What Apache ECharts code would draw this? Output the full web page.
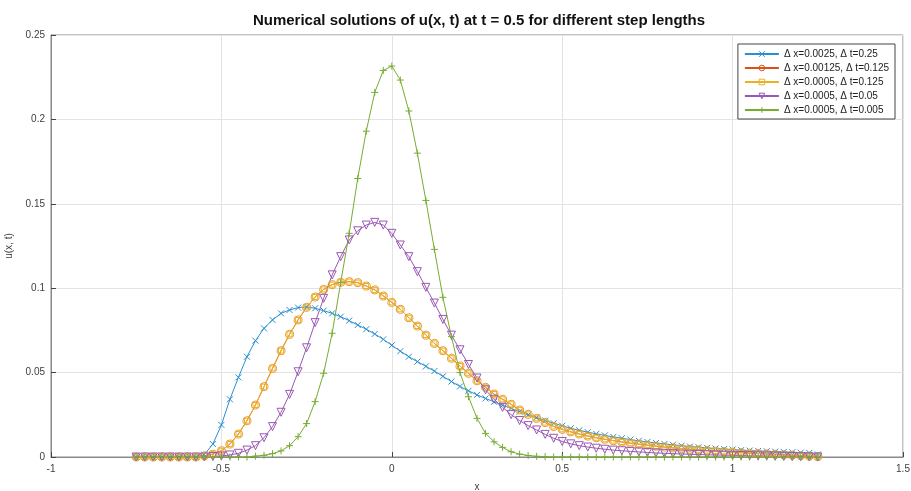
<!DOCTYPE html>
<html>
<head>
<meta charset="utf-8">
<script src="https://cdn.jsdelivr.net/npm/echarts@6/dist/echarts.min.js"></script>
<style>
  html, body { margin: 0; padding: 0; background: #fff; }
  #main { width: 911px; height: 491px; }
</style>
</head>
<body>
<div id="main"></div>
<script>
// sample positions of the plotted markers
var xs = [
  -0.75, -0.725, -0.7, -0.675, -0.65, -0.625, -0.6, -0.575, -0.55, -0.525,
  -0.5, -0.475, -0.45, -0.425, -0.4, -0.375, -0.35, -0.325, -0.3, -0.275,
  -0.25, -0.225, -0.2, -0.175, -0.15, -0.125, -0.1, -0.075, -0.05, -0.025,
  0, 0.025, 0.05, 0.075, 0.1, 0.125, 0.15, 0.175, 0.2, 0.225,
  0.25, 0.275, 0.3, 0.325, 0.35, 0.375, 0.4, 0.425, 0.45, 0.475,
  0.5, 0.525, 0.55, 0.575, 0.6, 0.625, 0.65, 0.675, 0.7, 0.725,
  0.75, 0.775, 0.8, 0.825, 0.85, 0.875, 0.9, 0.925, 0.95, 0.975,
  1, 1.025, 1.05, 1.075, 1.1, 1.125, 1.15, 1.175, 1.2, 1.225, 1.25
];

// dx=0.0025, dt=0.25
var uA = [
  0, 0, 0, 0, 0, 0, 0, 0, 0.0014, 0.0077,
  0.019, 0.0342, 0.0472, 0.0594, 0.0689, 0.0762, 0.0812, 0.0851, 0.0871, 0.0885,
  0.0889, 0.0881, 0.0867, 0.0851, 0.0831, 0.0808, 0.0782, 0.0757, 0.0729, 0.0697,
  0.0662, 0.0627, 0.0594, 0.0565, 0.0537, 0.0509, 0.0478, 0.0447, 0.0418, 0.0392,
  0.0368, 0.0347, 0.0327, 0.0307, 0.0288, 0.0268, 0.025, 0.0234, 0.0216, 0.02,
  0.0185, 0.017, 0.0158, 0.0147, 0.0137, 0.0128, 0.0119, 0.0111, 0.0103, 0.0096,
  0.0089, 0.0083, 0.0077, 0.0072, 0.0067, 0.0062, 0.0058, 0.0054, 0.005, 0.0047,
  0.0044, 0.0041, 0.0038, 0.0036, 0.0034, 0.0032, 0.003, 0.0028, 0.0026, 0.0024, 0.0015
];

// dx=0.00125, dt=0.125 and dx=0.0005, dt=0.125 (on top of each other)
var uB = [
  0, 0, 0, 0, 0, 0, 0, 0, 0.0007, 0.0017,
  0.0037, 0.0077, 0.0136, 0.0215, 0.0308, 0.0417, 0.0525, 0.063, 0.0727, 0.0812,
  0.0887, 0.0948, 0.0993, 0.1021, 0.1035, 0.1039, 0.1033, 0.1013, 0.099, 0.0954,
  0.0916, 0.0875, 0.0825, 0.0776, 0.0722, 0.0673, 0.063, 0.0585, 0.0539, 0.0496,
  0.0452, 0.0413, 0.0373, 0.0342, 0.0312, 0.0279, 0.0253, 0.0229, 0.0204, 0.0181,
  0.0164, 0.0149, 0.0136, 0.0124, 0.0114, 0.0105, 0.0097, 0.0089, 0.0082, 0.0076,
  0.007, 0.0064, 0.0059, 0.0054, 0.005, 0.0046, 0.0042, 0.0038, 0.0035, 0.0032,
  0.0029, 0.0026, 0.0023, 0.0021, 0.0018, 0.0016, 0.0013, 0.0011, 0.0008, 0.0005, 0.0002
];
var uC = uB.slice();

// dx=0.0005, dt=0.05
var uD = [
  0, 0, 0, 0, 0, 0, 0, 0, 0, 0.0003,
  0.0006, 0.0012, 0.0022, 0.0041, 0.0067, 0.0114, 0.018, 0.0265, 0.0371, 0.0505,
  0.0647, 0.0796, 0.094, 0.1079, 0.1187, 0.1286, 0.134, 0.1374, 0.139, 0.1374,
  0.1325, 0.1256, 0.1187, 0.1098, 0.1005, 0.0912, 0.0815, 0.0722, 0.0635, 0.0548,
  0.0468, 0.0398, 0.0342, 0.0294, 0.0251, 0.0216, 0.0186, 0.016, 0.0134, 0.0111,
  0.0092, 0.0078, 0.0067, 0.0059, 0.0052, 0.0046, 0.0041, 0.0037, 0.0033, 0.003,
  0.0027, 0.0024, 0.0022, 0.002, 0.0018, 0.0016, 0.0015, 0.0013, 0.0012, 0.0011,
  0.001, 0.0009, 0.0008, 0.0007, 0.0006, 0.0005, 0.0004, 0.0003, 0.0002, 0.0001, 0
];

// dx=0.0005, dt=0.005
var uE = [
  0, 0, 0, 0, 0, 0, 0, 0, 0, 0,
  0, 0, 0, 0, 0.0005, 0.001, 0.002, 0.0036, 0.0067, 0.012,
  0.0198, 0.0328, 0.0496, 0.0733, 0.1033, 0.1325, 0.165, 0.193, 0.216, 0.229,
  0.2316, 0.2233, 0.205, 0.18, 0.152, 0.123, 0.0946, 0.0713, 0.05, 0.0357,
  0.0229, 0.014, 0.009, 0.0057, 0.0031, 0.0017, 0.0009, 0.0004, 0.0002, 0,
  0, 0, 0, 0, 0, 0, 0, 0, 0, 0,
  0, 0, 0, 0, 0, 0, 0, 0, 0, 0,
  0, 0, 0, 0, 0, 0, 0, 0, 0, 0, 0
];

var names = [
  'Δ x=0.0025, Δ t=0.25',
  'Δ x=0.00125, Δ t=0.125',
  'Δ x=0.0005, Δ t=0.125',
  'Δ x=0.0005, Δ t=0.05',
  'Δ x=0.0005, Δ t=0.005'
];
var colors = ['#2a8fd0', '#D95319', '#EDB120', '#9a58b4', '#77AC30'];
// marker colour on the plot (orange circles sit under the yellow line)
var markColors = ['#2a8fd0', '#E39a35', '#EDB120', '#9a58b4', '#77AC30'];
var symbols = [
  'path://M0,0L10,10M10,0L0,10',
  'path://M5,0A5,5,0,1,1,4.99,0Z',
  'path://M0,0H10V10H0Z',
  'path://M0,0L10,0L5,9Z',
  'path://M5,0V10M0,5H10'
];
var sizes = [6, 8, 5, 8, 7];
var values = [uA, uB, uC, uD, uE];

let myChart = echarts.init(document.getElementById('main'));

let series = [];
let legendData = [];
for (let k = 0; k < values.length; k++) {
  let pts = [];
  for (let i = 0; i < xs.length; i++) {
    pts.push([xs[i], values[k][i]]);
  }
  series.push({
    name: names[k],
    type: 'line',
    data: pts,
    symbol: symbols[k],
    symbolSize: sizes[k],
    showAllSymbol: true,
    animation: false,
    lineStyle: { color: colors[k], width: 1 },
    itemStyle: { color: 'rgba(0,0,0,0)', borderColor: markColors[k], borderWidth: 1 },
    emphasis: { disabled: true }
  });
  legendData.push({
    name: names[k],
    itemStyle: { color: 'rgba(0,0,0,0)', borderColor: colors[k], borderWidth: 1 }
  });
}

let axisText = { color: '#404040', fontSize: 10, fontFamily: 'Liberation Sans, Arial, sans-serif' };

let option = {
  backgroundColor: '#fff',
  animation: false,
  title: {
    text: 'Numerical solutions of u(x, t) at t = 0.5 for different step lengths',
    left: 474,
    top: 8,
    textAlign: 'center',
    textStyle: { fontSize: 15, fontWeight: 'bold', color: '#111', fontFamily: 'Liberation Sans, Arial, sans-serif' }
  },
  legend: {
    orient: 'vertical',
    right: 16,
    top: 44,
    itemWidth: 34,
    itemHeight: 7,
    itemGap: 4,
    padding: [5, 6, 4, 6],
    backgroundColor: '#fff',
    borderColor: '#444',
    borderWidth: 1,
    textStyle: { fontSize: 10, color: '#222', fontFamily: 'Liberation Sans, Arial, sans-serif' },
    data: legendData
  },
  grid: {
    left: 51, right: 8, top: 35, bottom: 34,
    outerBoundsMode: 'none',
    containLabel: false,
    show: true, borderColor: '#888', borderWidth: 1
  },
  xAxis: {
    type: 'value',
    min: -1, max: 1.5, interval: 0.5,
    name: 'x',
    nameLocation: 'middle',
    nameGap: 25,
    nameMoveOverlap: false,
    nameTextStyle: axisText,
    axisLine: { show: true, onZero: false, lineStyle: { color: '#888' } },
    axisTick: { show: true, inside: true, length: 5, lineStyle: { color: '#444' } },
    axisLabel: Object.assign({ margin: 7 }, axisText),
    splitLine: { show: true, lineStyle: { color: '#e3e3e3' } }
  },
  yAxis: {
    type: 'value',
    min: 0, max: 0.25, interval: 0.05,
    name: 'u(x, t)',
    nameLocation: 'middle',
    nameGap: 37,
    nameMoveOverlap: false,
    nameTextStyle: axisText,
    axisLine: { show: true, onZero: false, lineStyle: { color: '#888' } },
    axisTick: { show: true, inside: true, length: 5, lineStyle: { color: '#444' } },
    axisLabel: Object.assign({ margin: 6 }, axisText),
    splitLine: { show: true, lineStyle: { color: '#e3e3e3' } }
  },
  series: series
};

myChart.setOption(option);
</script>
</body>
</html>
